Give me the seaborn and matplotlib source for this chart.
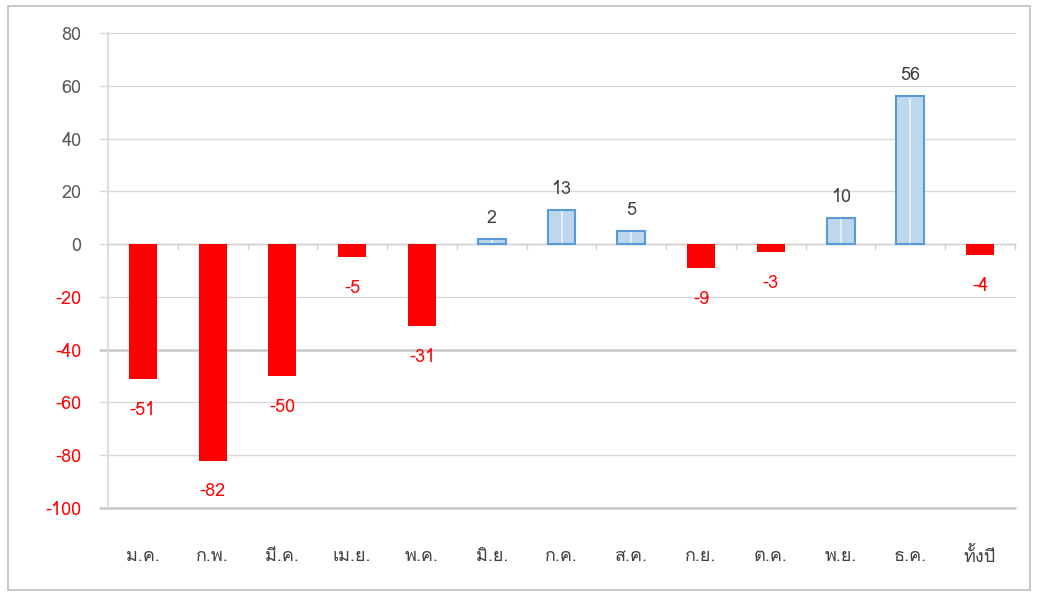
import matplotlib
matplotlib.use("Agg")
import matplotlib.pyplot as plt
import seaborn as sns
import pandas as pd
from matplotlib import font_manager, ft2font
from matplotlib.patches import Rectangle

months = ["ม.ค.", "ก.พ.", "มี.ค.", "เม.ย.", "พ.ค.", "มิ.ย.", "ก.ค.", "ส.ค.",
          "ก.ย.", "ต.ค.", "พ.ย.", "ธ.ค.", "ทั้งปี"]
values = [-51, -82, -50, -5, -31, 2, 13, 5, -9, -3, 10, 56, -4]
yticks = [80, 60, 40, 20, 0, -20, -40, -60, -80, -100]

# find a font that has Thai glyphs
thai_font = None
for fe in font_manager.fontManager.ttflist:
    try:
        cm = ft2font.FT2Font(fe.fname).get_charmap()
        if 0x0E01 in cm and 0x0E31 in cm:
            thai_font = fe.name
            break
    except Exception:
        continue

sns.set_theme(style="white")
fams = ([thai_font] if thai_font else []) + ["DejaVu Sans"]
plt.rcParams["font.family"] = fams

df = pd.DataFrame({"month": months, "value": values})
RED = "#FF0000"
FILL = "#BDD7EE"
EDGE = "#5B9BD5"
colors = [RED if v < 0 else FILL for v in values]

fig = plt.figure(figsize=(10.4, 5.92), dpi=100)
fig.patches.append(Rectangle((8/1040, 2/592), 1022/1040, 584/592, transform=fig.transFigure,
                             fill=False, edgecolor="#BFBFBF", linewidth=1.2))
ax = fig.add_axes([108/1040, 1 - 508/592, (1015 - 108)/1040, (508 - 33)/592])

sns.barplot(data=df, x="month", y="value", hue="month", palette=colors, legend=False,
            width=0.4, ax=ax, saturation=1, zorder=2)

for p, v in zip(ax.patches, values):
    if v >= 0:
        p.set_edgecolor(EDGE)
        p.set_linewidth(1.5)
    else:
        p.set_edgecolor(RED)
        p.set_linewidth(0)

# light highlight in the middle of the blue bars
pos_idx = [i for i, v in enumerate(values) if v > 0]
ax.vlines(pos_idx, 0.6, [values[i] - 0.6 for i in pos_idx], color="#EAF3FB",
          linewidth=1.2, zorder=3)

ax.set_ylim(-100, 80)
ax.set_xlim(-0.5, len(months) - 0.5)
ax.set_yticks(yticks)
ax.set_yticklabels([str(t) for t in yticks])
for lbl, t in zip(ax.get_yticklabels(), yticks):
    lbl.set_color(RED if t < 0 else "#595959")
    lbl.set_fontsize(13)

for t in yticks:
    lw = 1.8 if t in (-40, -100) else 1.0
    c = "#C8C8C8" if t in (-40, -100) else "#D9D9D9"
    ax.axhline(t, color=c, linewidth=lw, zorder=0, xmin=-0.009, clip_on=False)
ax.axhline(0, color="#D0D0D0", linewidth=1.0, zorder=0.5)

# tick marks between categories on zero line
for i in range(len(months) + 1):
    ax.plot([i - 0.5, i - 0.5], [0, -1.8], color="#D0D0D0", linewidth=1, zorder=0.5,
            clip_on=False)

for s in ["top", "right", "bottom"]:
    ax.spines[s].set_visible(False)
ax.spines["left"].set_color("#D9D9D9")
ax.tick_params(axis="x", length=0, pad=28, labelsize=13, labelcolor="#404040")
ax.tick_params(axis="y", length=0, pad=19)
ax.set_xlabel("")
ax.set_ylabel("")

for i, v in enumerate(values):
    if v >= 0:
        ax.text(i, v + 8, str(v), ha="center", va="center", fontsize=13, color="#404040")
    else:
        ax.text(i, v - 11.7, str(v), ha="center", va="center", fontsize=13, color=RED)

fig.savefig("out.png", dpi=100)
